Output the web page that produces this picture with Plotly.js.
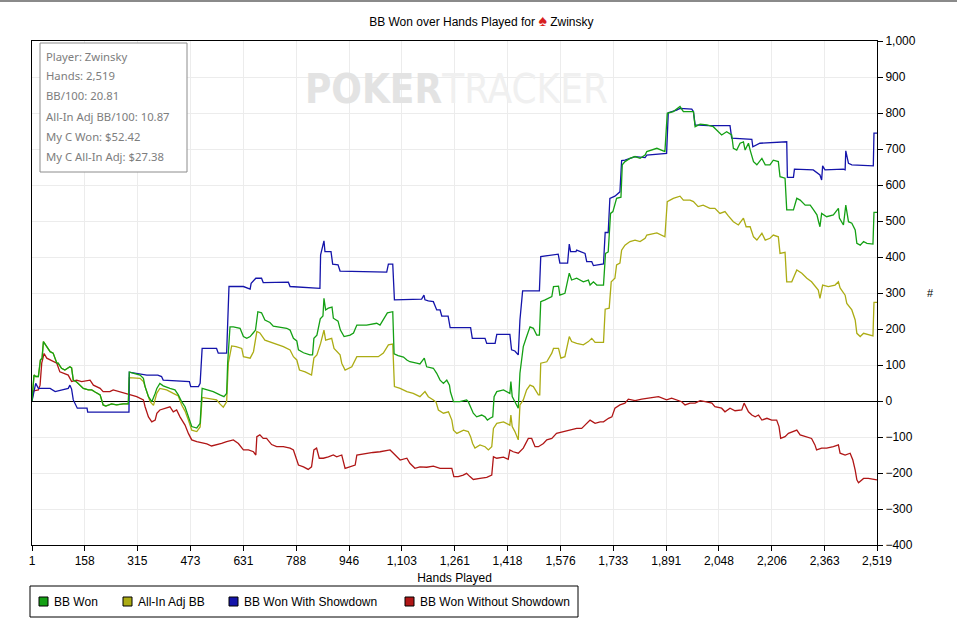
<!DOCTYPE html>
<html>
<head>
<meta charset="utf-8">
<script src="https://cdn.plot.ly/plotly-3.0.1.min.js"></script>
<style>
  html, body { margin: 0; padding: 0; background: #fff; }
  #chart { width: 957px; height: 631px; }
</style>
</head>
<body>
<div id="chart"></div>
<script>
// ***** data (hand number, big blinds)
const bbWonHands = [1,7,12,20,26,31,35,40,49,55,64,70,75,79,89,99,109,114,119,124,134,144,154,169,179,189,204,213,221,238,253,273,288,291,303,323,333,338,348,358,368,373,382,392,412,427,437,447,457,467,477,492,502,508,525,541,561,573,581,584,591,601,621,631,641,651,660,667,674,685,695,710,720,740,760,770,780,790,795,810,829,837,841,850,860,868,871,876,884,895,899,913,920,931,949,959,969,998,1028,1038,1048,1060,1076,1080,1092,1108,1118,1127,1147,1157,1170,1177,1197,1207,1217,1227,1237,1245,1248,1257,1276,1296,1301,1308,1316,1326,1341,1351,1358,1366,1374,1378,1386,1406,1425,1428,1432,1440,1450,1455,1465,1475,1485,1495,1505,1513,1517,1530,1550,1555,1570,1574,1589,1602,1609,1624,1644,1659,1664,1674,1684,1704,1710,1718,1725,1732,1738,1743,1756,1760,1768,1783,1798,1813,1828,1833,1863,1887,1894,1912,1932,1942,1962,1972,1977,1992,2012,2031,2041,2056,2071,2086,2091,2101,2111,2121,2126,2136,2141,2151,2161,2176,2186,2200,2210,2225,2230,2245,2250,2270,2280,2290,2305,2320,2330,2340,2345,2349,2354,2369,2389,2404,2407,2419,2426,2434,2444,2454,2459,2469,2479,2489,2507,2510,2519];
const bbWon = [0,72,68,68,114,119,165,158,147,137,133,119,105,105,91,86,91,95,92,58,53,44,35,31,31,25,17,-11,-14,-8,-11,-8,-8,80,77,72,63,40,12,-2,21,35,49,42,35,31,17,-2,-16,-44,-71,-75,-62,35,31,26,17,12,21,105,206,206,202,179,174,179,189,197,248,245,225,218,208,206,202,197,174,167,142,134,128,128,174,183,228,236,285,253,258,261,230,222,197,179,183,189,211,211,216,211,225,245,248,131,126,122,114,109,105,103,119,95,91,77,58,49,58,44,25,-2,-2,3,-2,-16,-34,-44,-39,-44,-53,-48,-44,12,26,31,21,54,12,-2,-20,77,151,179,206,202,183,183,276,281,290,318,319,294,299,355,336,341,331,336,322,331,322,322,410,414,521,526,544,563,566,656,665,674,679,674,683,693,702,693,799,804,818,804,804,804,762,769,767,762,753,739,748,739,702,697,716,720,697,716,697,665,656,674,656,656,669,665,623,619,531,531,563,558,544,544,531,517,498,484,521,512,517,535,508,489,544,498,494,475,438,433,443,438,436,524,524];

const allInHands = [1,7,12,20,26,31,35,40,49,55,64,70,75,79,89,99,109,114,119,124,134,144,154,169,179,189,204,213,221,238,253,273,288,291,323,333,343,353,363,368,373,382,402,422,437,447,457,467,477,492,502,508,531,551,561,571,581,586,596,609,626,631,651,661,671,680,695,710,728,750,770,780,790,798,815,834,841,850,861,871,876,894,901,919,924,934,954,969,998,1033,1048,1063,1076,1081,1098,1118,1137,1157,1172,1182,1197,1205,1212,1227,1242,1252,1257,1267,1287,1301,1308,1314,1321,1336,1351,1361,1371,1376,1386,1406,1425,1428,1432,1440,1450,1455,1465,1475,1485,1495,1510,1514,1517,1535,1550,1555,1570,1577,1589,1602,1609,1624,1644,1659,1669,1679,1704,1709,1721,1727,1738,1743,1753,1758,1768,1783,1798,1813,1828,1833,1863,1887,1894,1912,1932,1942,1962,1972,1986,2001,2021,2036,2051,2066,2076,2091,2106,2121,2129,2141,2151,2161,2176,2186,2200,2210,2225,2230,2245,2250,2265,2280,2295,2310,2324,2334,2344,2349,2357,2374,2394,2404,2409,2424,2429,2444,2454,2459,2469,2479,2493,2507,2510,2519];
const allInAdj = [0,72,68,68,114,119,165,158,147,137,133,119,105,105,91,86,91,95,92,58,53,44,35,31,31,25,17,-11,-14,-8,-11,-8,-8,65,63,54,28,-2,-12,8,22,35,31,21,14,-11,-28,-53,-81,-85,-72,10,7,3,-8,-17,-2,105,153,151,146,123,119,137,193,189,169,164,158,151,142,123,114,86,81,72,119,128,160,197,169,174,146,128,105,86,95,123,123,123,133,156,158,40,35,26,21,12,26,12,3,-3,-25,-34,-30,-53,-81,-90,-81,-85,-99,-118,-131,-122,-127,-136,-127,-76,-62,-58,-67,-39,-71,-85,-108,-11,3,31,44,40,17,17,105,109,133,146,146,119,123,179,165,160,156,165,174,163,163,255,258,331,341,378,383,419,433,443,447,443,452,461,467,456,554,563,569,558,558,554,540,544,535,535,521,526,514,498,489,508,484,484,456,447,466,447,452,461,456,410,413,331,331,364,355,341,331,318,308,285,322,318,322,331,314,294,271,253,225,188,179,188,185,181,274,274];

const withSdHands = [1,12,20,55,70,109,114,119,124,136,165,167,290,291,343,376,387,392,470,474,497,502,508,551,556,581,588,631,651,654,668,685,690,765,770,829,859,861,871,874,892,897,913,919,973,978,1058,1063,1076,1081,1162,1169,1172,1182,1197,1207,1217,1222,1241,1247,1308,1313,1351,1356,1381,1386,1425,1430,1440,1450,1455,1463,1513,1517,1535,1569,1574,1597,1602,1606,1622,1624,1649,1654,1669,1674,1704,1709,1718,1723,1738,1753,1758,1768,1783,1798,1828,1833,1892,1897,1922,1932,1967,1972,1977,2016,2081,2086,2146,2149,2170,2250,2252,2270,2273,2329,2349,2354,2357,2364,2419,2424,2426,2434,2444,2508,2510,2519];
const withSd = [0,49,35,35,26,35,44,33,3,-20,-20,-31,-31,80,72,72,68,58,54,40,40,49,146,146,133,133,318,318,311,327,341,341,329,330,318,315,313,406,445,415,415,380,378,361,360,358,358,380,380,281,283,294,281,278,276,253,253,236,236,204,204,174,174,160,160,185,185,142,139,128,225,306,306,401,404,408,383,383,436,415,415,419,410,387,387,376,381,468,468,563,569,581,668,669,674,679,676,683,688,801,808,813,811,804,767,765,765,730,727,706,716,720,621,621,644,642,628,614,653,642,644,642,695,660,656,653,744,744];

const noSdHands = [1,5,20,25,30,37,45,55,64,75,84,94,109,119,134,149,174,184,204,213,233,243,263,278,293,313,333,338,348,358,368,373,382,397,412,422,432,442,452,457,467,477,492,511,522,536,551,566,581,601,616,631,646,661,668,671,680,690,700,715,730,750,770,780,795,810,824,834,841,849,857,869,884,899,909,924,934,949,964,969,998,1017,1038,1053,1068,1078,1098,1118,1127,1142,1157,1177,1197,1217,1237,1252,1258,1271,1286,1296,1306,1316,1336,1356,1371,1376,1386,1406,1420,1425,1435,1450,1465,1480,1490,1500,1510,1525,1535,1550,1564,1584,1604,1624,1639,1649,1659,1664,1679,1694,1704,1719,1729,1738,1753,1768,1778,1798,1818,1833,1853,1868,1879,1892,1907,1922,1937,1947,1962,1977,1992,2007,2027,2036,2056,2066,2081,2096,2116,2123,2128,2136,2146,2156,2166,2176,2191,2205,2220,2227,2232,2245,2255,2270,2280,2290,2310,2324,2334,2339,2354,2369,2389,2404,2409,2424,2439,2447,2454,2459,2464,2479,2493,2508,2519];
const withoutSd = [0,28,31,44,105,132,119,114,109,105,81,77,72,54,58,54,58,44,35,26,26,31,26,21,17,12,3,-16,-44,-58,-53,-34,-25,-20,-16,-30,-25,-44,-62,-67,-90,-108,-113,-116,-119,-125,-122,-118,-113,-108,-118,-136,-136,-141,-150,-99,-94,-104,-104,-121,-127,-127,-131,-136,-178,-183,-190,-183,-136,-131,-159,-159,-155,-150,-155,-150,-187,-183,-178,-150,-145,-143,-141,-139,-136,-145,-164,-159,-173,-187,-183,-184,-181,-187,-187,-187,-210,-210,-206,-201,-210,-218,-215,-212,-206,-155,-159,-156,-162,-136,-141,-145,-131,-104,-104,-127,-127,-118,-108,-104,-90,-85,-81,-76,-76,-67,-58,-53,-62,-58,-58,-48,-44,-20,-11,-6,5,1,5,8,10,12,8,3,8,3,-2,-11,-6,-6,1,-2,-6,-16,-20,-30,-20,-27,-25,-6,-16,-30,-39,-44,-39,-53,-48,-53,-53,-71,-104,-99,-90,-85,-81,-94,-99,-104,-122,-136,-131,-131,-127,-122,-145,-150,-145,-164,-192,-219,-227,-215,-215,-218,-219];

const seriesNames = ['BB Won', 'All-In Adj BB', 'BB Won With Showdown', 'BB Won Without Showdown'];
const seriesColors = ['#14a014', '#acac14', '#1414aa', '#b01616'];

const xTicks = [1,158,315,473,631,788,946,1103,1261,1418,1576,1733,1891,2048,2206,2363,2519];

const infoLines = ['Player: Zwinsky', 'Hands: 2,519', 'BB/100: 20.81', 'All-In Adj BB/100: 10.87',
                   'My C Won: $52.42', 'My C All-In Adj: $27.38'];

// ***** layout helpers: pixel position on the page -> paper coords
const PLOT = {left: 32, right: 877, top: 41, bottom: 545};
const px = (p) => (p - PLOT.left) / (PLOT.right - PLOT.left);
const py = (p) => (PLOT.bottom - p) / (PLOT.bottom - PLOT.top);

const FONT = 'Liberation Sans, Arial, sans-serif';

const makeTrace = (x, y, i) => ({
    x: x,
    y: y,
    name: seriesNames[i],
    type: 'scatter',
    mode: 'lines',
    line: {color: seriesColors[i], width: 1.3},
    showlegend: false,
    hoverinfo: 'skip'
});

// olive first so green sits on top where they overlap
const data = [
    makeTrace(allInHands, allInAdj, 1),
    makeTrace(noSdHands, withoutSd, 3),
    makeTrace(withSdHands, withSd, 2),
    makeTrace(bbWonHands, bbWon, 0)
];

const shapes = [];
const annotations = [];

// window border along the top
shapes.push({type: 'line', xref: 'paper', yref: 'paper',
    x0: px(0), x1: px(957), y0: py(1), y1: py(1),
    line: {color: '#8a8a8a', width: 2}});

// stats box
shapes.push({type: 'rect', xref: 'paper', yref: 'paper',
    x0: px(40), x1: px(187), y0: py(172), y1: py(43),
    line: {color: '#8c8c8c', width: 1}, fillcolor: '#fff', layer: 'above'});
infoLines.forEach((line, i) => {
    annotations.push({xref: 'paper', yref: 'paper', x: px(44), y: py(56 + i * 20),
        xanchor: 'left', yanchor: 'middle', text: line, showarrow: false,
        font: {family: 'Noto Sans, Open Sans, sans-serif', size: 11.3, color: '#7d7d7d'}});
});

// watermark
annotations.push({xref: 'paper', yref: 'paper', x: px(456), y: py(89),
    xanchor: 'center', yanchor: 'middle', showarrow: false,
    text: '<b>POKER</b><span style="color:#f0f0f0">TRACKER</span>',
    font: {family: 'DejaVu Sans Condensed, DejaVu Sans, sans-serif', size: 40, color: '#e3e3e3'}});

// right axis label
annotations.push({xref: 'paper', yref: 'paper', x: px(930), y: py(293),
    xanchor: 'center', yanchor: 'middle', showarrow: false, text: '#',
    font: {family: FONT, size: 11, color: '#000'}});

// legend drawn by hand: box, colour squares, names
shapes.push({type: 'rect', xref: 'paper', yref: 'paper',
    x0: px(30), x1: px(578), y0: py(617), y1: py(586),
    line: {color: '#000', width: 1}, fillcolor: '#fff'});
const legendSquares = [39, 123, 229, 405];
const legendTexts = [52, 136, 242, 418];
seriesNames.forEach((name, i) => {
    shapes.push({type: 'rect', xref: 'paper', yref: 'paper',
        x0: px(legendSquares[i]), x1: px(legendSquares[i] + 9), y0: py(606), y1: py(597),
        line: {color: '#000', width: 1}, fillcolor: seriesColors[i]});
    annotations.push({xref: 'paper', yref: 'paper', x: px(legendTexts[i]), y: py(602),
        xanchor: 'left', yanchor: 'middle', text: name, showarrow: false,
        font: {family: FONT, size: 12, color: '#000'}});
});

const layout = {
    width: 957,
    height: 631,
    margin: {l: PLOT.left, r: 957 - PLOT.right, t: PLOT.top, b: 631 - PLOT.bottom},
    paper_bgcolor: '#fff',
    plot_bgcolor: '#fff',
    font: {family: FONT, size: 12, color: '#000'},
    title: {
        text: 'BB Won over Hands Played for <span style="color:#d81e1e;font-size:16px">♠</span> Zwinsky',
        x: 0.503, xref: 'container', y: 1 - 22 / 631, yref: 'container',
        xanchor: 'center', yanchor: 'middle',
        font: {family: FONT, size: 12, color: '#000'}
    },
    xaxis: {
        range: [1, 2519],
        tickvals: xTicks,
        tickformat: ',d',
        ticks: 'outside',
        ticklen: 5,
        tickcolor: '#000',
        showline: true,
        linecolor: '#000',
        linewidth: 1,
        mirror: true,
        showgrid: true,
        gridcolor: '#ececec',
        gridwidth: 1,
        zeroline: false,
        title: {text: 'Hands Played', standoff: 6, font: {family: FONT, size: 12, color: '#000'}},
        tickfont: {family: FONT, size: 12, color: '#000'}
    },
    yaxis: {
        side: 'right',
        range: [-400, 1000],
        dtick: 100,
        tickformat: ',d',
        ticks: 'outside',
        ticklen: 5,
        tickcolor: '#000',
        showline: true,
        linecolor: '#000',
        linewidth: 1,
        mirror: true,
        showgrid: true,
        gridcolor: '#ececec',
        gridwidth: 1,
        zeroline: true,
        zerolinecolor: '#000',
        zerolinewidth: 1,
        tickfont: {family: FONT, size: 12, color: '#000'}
    },
    shapes: shapes,
    annotations: annotations,
    showlegend: false,
    hovermode: false
};

Plotly.newPlot('chart', data, layout, {displayModeBar: false, staticPlot: true});
</script>
</body>
</html>
